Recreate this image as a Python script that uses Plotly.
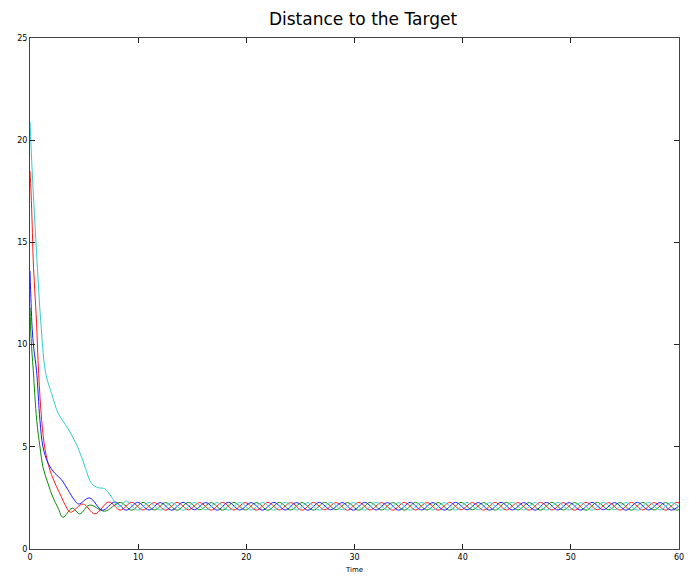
import plotly.graph_objects as go

# ---- data ----
x_ticks = [0, 10, 20, 30, 40, 50, 60]
y_ticks = [0, 5, 10, 15, 20, 25]

# steady-state time grids (extrema times, read from the braid)
grid_a = [7.3, 8.35, 9.4, 10.45, 11.5, 12.55, 13.6, 14.65, 15.7, 16.75, 17.8, 18.85, 19.9, 20.95,
          22.0, 23.05, 24.1, 25.15, 26.2, 27.25, 28.3, 29.35, 30.4, 31.45, 32.5, 33.55, 34.6, 35.65,
          36.7, 37.75, 38.8, 39.85, 40.9, 41.95, 43.0, 44.05, 45.1, 46.15, 47.2, 48.25, 49.3, 50.35,
          51.4, 52.45, 53.5, 54.55, 55.6, 56.65, 57.7, 58.75, 59.8, 60.85]
grid_b = [7.85, 8.9, 9.95, 11.0, 12.05, 13.1, 14.15, 15.2, 16.25, 17.3, 18.35, 19.4, 20.45, 21.5,
          22.55, 23.6, 24.65, 25.7, 26.75, 27.8, 28.85, 29.9, 30.95, 32.0, 33.05, 34.1, 35.15, 36.2,
          37.25, 38.3, 39.35, 40.4, 41.45, 42.5, 43.55, 44.6, 45.65, 46.7, 47.75, 48.8, 49.85, 50.9,
          51.95, 53.0, 54.05, 55.1, 56.15, 57.2, 58.25, 59.3, 60.35]

# red
red_t0 = [0, 0.1, 0.2, 0.3, 0.6, 0.8, 1.08, 1.4, 1.85, 2.45, 2.9, 3.3, 3.75, 4.9, 6.0]
red_v0 = [18.5, 17.4, 15.9, 14.1, 11.1, 8.6, 6.3, 4.85, 3.85, 3.05, 2.55, 2.1, 1.8, 2.2, 1.72]
red_vs = [2.3, 1.9, 2.28, 1.91, 2.27, 1.9, 2.28, 1.92, 2.27, 1.9, 2.28, 1.91, 2.27, 1.9,
          2.28, 1.91, 2.27, 1.9, 2.28, 1.92, 2.27, 1.9, 2.28, 1.91, 2.27, 1.9, 2.28, 1.91,
          2.27, 1.9, 2.28, 1.92, 2.27, 1.9, 2.28, 1.91, 2.27, 1.9, 2.28, 1.91, 2.27, 1.9,
          2.28, 1.92, 2.27, 1.9, 2.28, 1.91, 2.27, 1.9, 2.28, 1.91]

# blue
blue_t0 = [0, 0.1, 0.2, 0.35, 0.6, 0.92, 1.2, 1.67, 2.3, 2.9, 3.5, 4.1, 4.5, 5.5, 6.7]
blue_v0 = [13.6, 12.0, 10.8, 9.8, 8.75, 6.3, 5.0, 4.2, 3.7, 3.4, 2.9, 2.4, 2.2, 2.5, 1.9]
blue_vs = [2.3, 1.9, 2.28, 1.91, 2.27, 1.9, 2.28, 1.92, 2.27, 1.9, 2.28, 1.91, 2.27, 1.9,
           2.28, 1.91, 2.27, 1.9, 2.28, 1.92, 2.27, 1.9, 2.28, 1.91, 2.27, 1.9, 2.28, 1.91,
           2.27, 1.9, 2.28, 1.92, 2.27, 1.9, 2.28, 1.91, 2.27, 1.9, 2.28, 1.91, 2.27, 1.9,
           2.28, 1.92, 2.27, 1.9, 2.28, 1.91, 2.27, 1.9, 2.28]

# green
green_t0 = [0, 0.1, 0.3, 0.62, 0.92, 1.2, 1.67, 2.1, 2.6, 3.05, 3.9, 4.6, 5.5, 6.9]
green_v0 = [11.8, 10.3, 8.75, 6.3, 5.0, 4.0, 3.2, 2.55, 2.0, 1.55, 2.0, 1.72, 2.15, 1.85]
green_vs = [2.28, 1.9, 2.28, 1.91, 2.27, 1.9, 2.28, 1.92, 2.27, 1.9, 2.28, 1.91, 2.27, 1.9,
            2.28, 1.91, 2.27, 1.9, 2.28, 1.92, 2.27, 1.9, 2.28, 1.91, 2.27, 1.9, 2.28, 1.91,
            2.27, 1.9, 2.28, 1.92, 2.27, 1.9, 2.28, 1.91, 2.27, 1.9, 2.28, 1.91, 2.27, 1.9,
            2.28, 1.92, 2.27, 1.9, 2.28, 1.91, 2.27, 1.9, 2.28]

# cyan
cyan_t0 = [0, 0.2, 0.65, 1.0, 1.45, 2.0, 2.6, 3.5, 4.4, 5.1, 5.7, 6.3, 6.9, 7.4, 7.85, 8.25]
cyan_v0 = [20.9, 18.5, 14.1, 11.1, 8.6, 7.6, 6.65, 5.9, 5.0, 4.0, 3.2, 3.0, 2.95, 2.65, 2.3, 2.05]
cyan_vs = [2.35, 1.9, 2.28, 1.91, 2.27, 1.9, 2.28, 1.92, 2.27, 1.9, 2.28, 1.91, 2.27, 1.9,
           2.28, 1.91, 2.27, 1.9, 2.28, 1.92, 2.27, 1.9, 2.28, 1.91, 2.27, 1.9, 2.28, 1.91,
           2.27, 1.9, 2.28, 1.92, 2.27, 1.9, 2.28, 1.91, 2.27, 1.9, 2.28, 1.91, 2.27, 1.9,
           2.28, 1.92, 2.27, 1.9, 2.28, 1.91, 2.27, 1.9]

series = [
    ("green", green_t0 + grid_a[1:], green_v0 + green_vs, "#0a8a0a"),
    ("red", red_t0 + grid_a, red_v0 + red_vs, "#ff1a1a"),
    ("blue", blue_t0 + grid_b, blue_v0 + blue_vs, "#1a1aff"),
    ("cyan", cyan_t0 + grid_b[1:], cyan_v0 + cyan_vs, "#33cccc"),
]

fig = go.Figure()
for name, t, v, c in series:
    n = min(len(t), len(v))
    fig.add_trace(go.Scatter(x=t[:n], y=v[:n], mode="lines", name=name,
                             line=dict(color=c, width=1, shape="spline", smoothing=1),
                             showlegend=False))

font = "DejaVu Sans, sans-serif"
fig.update_layout(
    width=696, height=579,
    margin=dict(l=30, r=17, t=38, b=30),
    paper_bgcolor="white", plot_bgcolor="white",
    title=dict(text="Distance to the Target", x=363 / 696, xref="container", xanchor="center",
               y=1 - 19 / 579, yref="container", yanchor="middle",
               font=dict(family=font, size=17, color="black")),
    font=dict(family=font, size=8, color="black"),
)
axis_common = dict(showline=True, mirror="ticks", linecolor="#444", linewidth=1,
                   ticks="inside", ticklen=5, tickcolor="#222", tickwidth=1, automargin=False,
                   showgrid=False, zeroline=False, tickfont=dict(family=font, size=8, color="black"))
fig.update_xaxes(range=[0, 60], tickvals=x_ticks, ticktext=[str(v) for v in x_ticks],
                 title=dict(text="Time", font=dict(family=font, size=7), standoff=6), **axis_common)
fig.update_yaxes(range=[0, 25], tickvals=y_ticks, ticktext=[str(v) for v in y_ticks], **axis_common)

fig.write_html("out.html")
